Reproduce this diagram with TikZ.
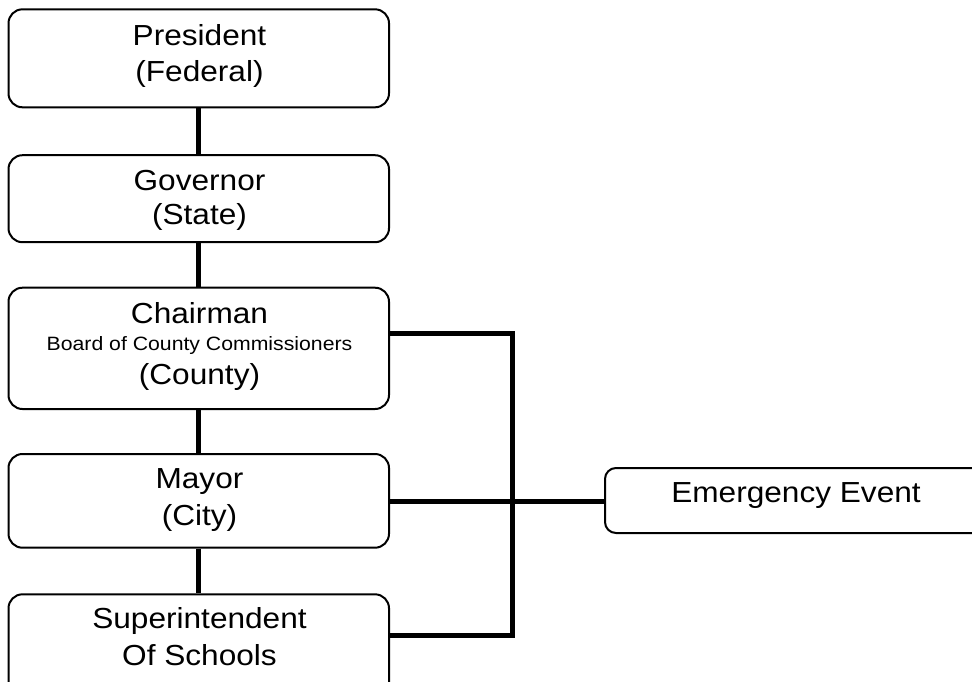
\documentclass[tikz,border=0pt]{standalone}
\usepackage{fontspec}
\usepackage{graphicx}
\setmainfont{Liberation Sans}
\newcommand\widetext[1]{\scalebox{1.09}[1]{#1}}
\tikzset{
  box/.style={draw, line width=2pt, rounded corners=14pt, inner sep=0pt},
  lbl/.style={anchor=base, inner sep=0pt, font=\fontsize{29}{29}\selectfont},
  sublbl/.style={anchor=base, inner sep=0pt, font=\fontsize{19.3}{19.3}\selectfont},
  conn/.style={line width=5pt},
}
\begin{document}
\begin{tikzpicture}[x=1pt, y=-1pt]
  \useasboundingbox (0,0) rectangle (972,681);
  \clip (0,0) rectangle (972,681);

  % chain of offices
  \node[box, minimum width=380.5pt, minimum height=98pt]   (pres)  at (198.75,58.3)  {};
  \node[box, minimum width=380.5pt, minimum height=87pt]   (gov)   at (198.75,198.7) {};
  \node[box, minimum width=380.5pt, minimum height=121.3pt](chair) at (198.75,348.35){};
  \node[box, minimum width=380.5pt, minimum height=93.7pt] (mayor) at (198.75,500.85){};
  \node[box, minimum width=380.5pt, minimum height=126pt]  (supt)  at (198.75,657.3) {};
  \node[box, rounded corners=11pt, minimum width=405pt, minimum height=65pt] (emerg) at (807.5,500.5) {};

  % labels
  \node[lbl] (presA)  at (199.5,45)    {\widetext{President}};
  \node[lbl] (presB)  at (199.5,81.7)  {\widetext{(Federal)}};
  \node[lbl] (govA)   at (199.5,190.7) {\widetext{Governor}};
  \node[lbl] (govB)   at (199.5,224)   {\widetext{(State)}};
  \node[lbl] (chairA) at (199.5,323.3) {\widetext{Chairman}};
  \node[sublbl] (chairB) at (199.5,350.7) {\scalebox{1.1}[1]{Board of County Commissioners}};
  \node[lbl] (chairC) at (199.5,384.3) {\widetext{(County)}};
  \node[lbl] (mayorA) at (199.5,488.3) {\widetext{Mayor}};
  \node[lbl] (mayorB) at (199.5,525)   {\widetext{(City)}};
  \node[lbl] (suptA)  at (199.5,628.3) {\widetext{Superintendent}};
  \node[lbl] (suptB)  at (199.5,665)   {\widetext{Of Schools}};
  \node[lbl] (emergA) at (796,502)     {\widetext{Emergency Event}};

  % vertical links
  \draw[conn] (pres.south)  -- (gov.north);
  \draw[conn] (gov.south)   -- (chair.north);
  \draw[conn] (chair.south) -- (mayor.north);
  \draw[conn] (mayor.south) -- (supt.north);

  % bus on the right
  \coordinate (bustop) at (512,333);
  \coordinate (busbot) at (512,635.5);
  \coordinate (tap)    at (0,501.5);
  \draw[conn] (chair.east |- bustop) -- (bustop) -- (busbot) -- (supt.east |- busbot);
  \draw[conn] (mayor.east |- tap) -- (emerg.west |- tap);
\end{tikzpicture}
\end{document}
